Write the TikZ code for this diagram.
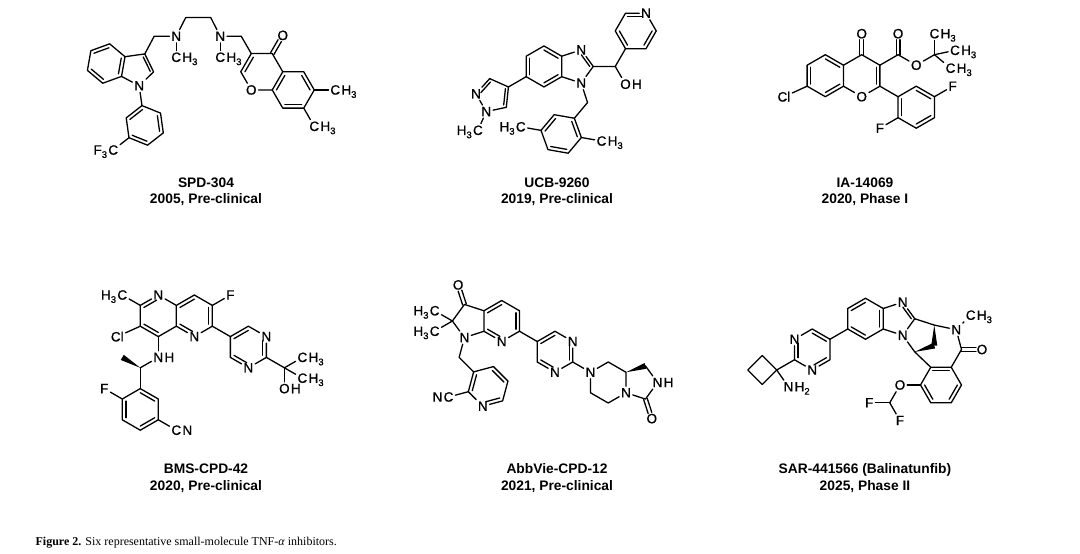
\documentclass[tikz,border=0pt]{standalone}
\usepackage{fontspec}
\setmainfont{Liberation Serif}
\newfontfamily\arialf{Liberation Sans}
\newfontfamily\arialfb[FakeBold=0.8]{Liberation Sans}
\usetikzlibrary{calc}
\newcommand\atomfont{\arialfb\fontsize{13.5}{15}\selectfont}
\newcommand\sub[1]{\raisebox{-3.2pt}{\fontsize{9.5}{10}\selectfont #1}}
\newcommand\din[4][]{\draw[#1] ($(#4)!0.8!(#2)$) -- ($(#4)!0.8!(#3)$);}
\newcommand\dbo[3][]{\draw[#1] ($(#2)!1.9pt!90:(#3)$) -- ($(#3)!1.9pt!-90:(#2)$); \draw[#1] ($(#2)!1.9pt!-90:(#3)$) -- ($(#3)!1.9pt!90:(#2)$);}
\newcommand\wdg[2]{\fill (#1) -- ($(#2)!3pt!90:(#1)$) -- ($(#2)!3pt!-90:(#1)$) -- cycle;}
\newcommand\suf[2]{\node[font=\atomfont,inner sep=0pt,anchor=base west] at ([xshift=-1.3pt]#1.base east) {#2};}
\newcommand\pre[2]{\node[font=\atomfont,inner sep=0pt,anchor=base east] at ([xshift=1.3pt]#1.base west) {#2};}
\tikzset{atm/.style={font=\atomfont,inner sep=1.3pt},
  ttl/.style={font=\arialf\bfseries\fontsize{13.8}{15}\selectfont,anchor=base,inner sep=0pt}}
\begin{document}
\begin{tikzpicture}[x=1pt,y=-1pt,line width=1.3pt,line cap=round,line join=round]
\fill[white] (0,0) rectangle (1080,554);
\useasboundingbox (0,0) rectangle (1080,554);
% ================= SPD-304 =================
\def\BL{20}
\coordinate (a3a) at (125,56.7);
\coordinate (a3) at ($(a3a)+(-8:\BL)$);
\coordinate (a2) at ($(a3)+(64:\BL)$);
\node[atm] (aN) at ($(a2)+(136:\BL)$) {N};
\coordinate (a7a) at ($(a3a)+(100:\BL)$);
\coordinate (a4) at ($(a3a)+(-140:\BL)$);
\coordinate (a5) at ($(a4)+(160:\BL)$);
\coordinate (a6) at ($(a5)+(100:\BL)$);
\coordinate (a7) at ($(a6)+(40:\BL)$);
\coordinate (abc) at ($(a3a)!0.5!(a6)$);
\coordinate (apc) at ($0.2*(a3a)+0.2*(a3)+0.2*(a2)+0.2*(aN)+0.2*(a7a)$);
\draw (a3a)--(a4)--(a5)--(a6)--(a7)--(a7a)--cycle;
\draw (a7a)--(aN)--(a2)--(a3)--(a3a);
\din{a4}{a5}{abc} \din{a6}{a7}{abc} \din{a7a}{a3a}{abc}
\din{a3}{a2}{apc}
\coordinate (b1) at ($(aN)+(82:\BL)$);
\coordinate (bc) at ($(b1)+(82:\BL)$);
\coordinate (b2) at ($(bc)+(202:\BL)$);
\coordinate (b3) at ($(bc)+(142:\BL)$);
\coordinate (b4) at ($(bc)+(82:\BL)$);
\coordinate (b5) at ($(bc)+(22:\BL)$);
\coordinate (b6) at ($(bc)+(-38:\BL)$);
\draw (aN)--(b1);
\draw (b1)--(b2)--(b3)--(b4)--(b5)--(b6)--cycle;
\din{b1}{b2}{bc} \din{b3}{b4}{bc} \din{b5}{b6}{bc}
\node[atm] (bC) at ($(b3)+(142:\BL)$) {C}; \pre{bC}{F\sub{3}}
\draw (b3)--(bC);
% chain
\coordinate (c1) at ($(a3)+(-62:\BL)$);
\node[atm] (cN1) at ($(c1)+(0:22)$) {N};
\node[atm] (cM1) at ($(cN1)+(90:21)$) {C}; \suf{cM1}{H\sub{3}}
\coordinate (c2) at ($(cN1)+(-63:21)$);
\coordinate (c3) at ($(c2)+(0:25)$);
\node[atm] (cN2) at ($(c3)+(63:21)$) {N};
\node[atm] (cM2) at ($(cN2)+(90:21)$) {C}; \suf{cM2}{H\sub{3}}
\coordinate (c4) at ($(cN2)+(0:21)$);
\draw (a3)--(c1)--(cN1)--(c2)--(c3)--(cN2)--(c4);
\draw (cN1)--(cM1); \draw (cN2)--(cM2);
% chromone
\def\BL{21}
\coordinate (d3) at ($(c4)+(60:20)$);
\coordinate (dpc) at ($(d3)+(60:\BL)$);
\coordinate (d4a) at ($(dpc)+(0:\BL)$);
\coordinate (d4) at ($(dpc)+(-60:\BL)$);
\coordinate (d2) at ($(dpc)+(180:\BL)$);
\node[atm] (dO) at ($(dpc)+(120:\BL)$) {O};
\coordinate (d8a) at ($(dpc)+(60:\BL)$);
\coordinate (dbc) at ($(dpc)+(30:{1.732*\BL})$);
\coordinate (d5) at ($(dbc)+(-60:\BL)$);
\coordinate (d6) at ($(dbc)+(0:\BL)$);
\coordinate (d7) at ($(dbc)+(60:\BL)$);
\coordinate (d8) at ($(dbc)+(120:\BL)$);
\draw (c4)--(d3);
\draw (d3)--(d4)--(d4a)--(d8a)--(dO)--(d2)--(d3);
\draw (d4a)--(d5)--(d6)--(d7)--(d8)--(d8a);
\din{d2}{d3}{dpc}
\din{d4a}{d8a}{dbc} \din{d5}{d6}{dbc} \din{d7}{d8}{dbc}
\node[atm] (dOk) at ($(d4)+(-60:\BL)$) {O};
\dbo[shorten >=6pt]{d4}{dOk}
\node[atm] (dM1) at ($(d6)+(0:\BL)$) {C}; \suf{dM1}{H\sub{3}}
\node[atm] (dM2) at ($(d7)+(60:\BL)$) {C}; \suf{dM2}{H\sub{3}}
\draw (d6)--(dM1); \draw (d7)--(dM2);
\node[ttl] at (206,187.5) {SPD-304};
\node[ttl] at (206,203.5) {2005, Pre-clinical};
% ================= UCB-9260 =================
\def\BL{20.5}
\coordinate (e7a) at (561.7,76.7);
\coordinate (e3a) at ($(e7a)+(-90:\BL)$);
\node[atm] (eN3) at ($(e3a)+(-18:\BL)$) {N};
\coordinate (e2) at ($(eN3)+(54:\BL)$);
\node[atm] (eN1) at ($(e2)+(126:\BL)$) {N};
\coordinate (eb) at ($($(e3a)!0.5!(e7a)$)+(180:{0.866*\BL})$);
\coordinate (e4) at ($(eb)+(-90:\BL)$);
\coordinate (e5) at ($(eb)+(-150:\BL)$);
\coordinate (e6) at ($(eb)+(150:\BL)$);
\coordinate (e7) at ($(eb)+(90:\BL)$);
\coordinate (ec) at ($($(e3a)!0.5!(e7a)$)+(0:{0.688*\BL})$);
\draw (e3a)--(e4)--(e5)--(e6)--(e7)--(e7a)--cycle;
\draw (e3a)--(eN3)--(e2)--(eN1)--(e7a);
\din{e3a}{e4}{eb} \din{e5}{e6}{eb} \din{e7}{e7a}{eb}
\din[shorten <=2pt]{eN3}{e2}{ec}
\coordinate (p4) at ($(e6)+(150:\BL)$);
\coordinate (pc) at ($(p4)+(150:{0.8507*\BL})$);
\coordinate (p5) at ($(pc)+(42:{0.8507*\BL})$);
\node[atm] (pN1) at ($(pc)+(114:{0.8507*\BL})$) {N};
\node[atm] (pN2) at ($(pc)+(186:{0.8507*\BL})$) {N};
\coordinate (p3) at ($(pc)+(258:{0.8507*\BL})$);
\draw (e6)--(p4);
\draw (p4)--(p5)--(pN1)--(pN2)--(p3)--(p4);
\din{p4}{p5}{pc} \din[shorten <=2pt]{pN2}{p3}{pc}
\node[atm] (pM) at ($(pN1)+(114:\BL)$) {C}; \pre{pM}{H\sub{3}}
\draw (pN1)--(pM);
\coordinate (eCH) at ($(e2)+(0:22)$);
\node[atm] (eO) at ($(eCH)+(60:\BL)$) {O}; \suf{eO}{H}
\coordinate (f4) at ($(eCH)+(-60:\BL)$);
\coordinate (fc) at ($(f4)+(-60:\BL)$);
\coordinate (f3) at ($(fc)+(180:\BL)$);
\coordinate (f2) at ($(fc)+(-120:\BL)$);
\node[atm] (fN) at ($(fc)+(-60:\BL)$) {N};
\coordinate (f6) at ($(fc)+(0:\BL)$);
\coordinate (f5) at ($(fc)+(60:\BL)$);
\draw (e2)--(eCH)--(eO); \draw (eCH)--(f4);
\draw (f4)--(f3)--(f2)--(fN)--(f6)--(f5)--(f4);
\din[shorten >=2pt]{f2}{fN}{fc} \din{f3}{f4}{fc} \din{f5}{f6}{fc}
\coordinate (g0) at ($(eN1)+(72:\BL)$);
\coordinate (g1) at ($(g0)+(130:\BL)$);
\coordinate (gc) at ($(g1)+(130:\BL)$);
\coordinate (g2) at ($(gc)+(10:\BL)$);
\coordinate (g3) at ($(gc)+(70:\BL)$);
\coordinate (g4) at ($(gc)+(130:\BL)$);
\coordinate (g5) at ($(gc)+(190:\BL)$);
\coordinate (g6) at ($(gc)+(250:\BL)$);
\draw (eN1)--(g0)--(g1);
\draw (g1)--(g2)--(g3)--(g4)--(g5)--(g6)--cycle;
\din{g1}{g2}{gc} \din{g3}{g4}{gc} \din{g5}{g6}{gc}
\node[atm] (gM1) at ($(g2)+(10:\BL)$) {C}; \suf{gM1}{H\sub{3}}
\node[atm] (gM2) at ($(g5)+(190:\BL)$) {C}; \pre{gM2}{H\sub{3}}
\draw (g2)--(gM1); \draw (g5)--(gM2);
\node[ttl] at (557,187.5) {UCB-9260};
\node[ttl] at (557,203.5) {2019, Pre-clinical};
% ================= IA-14069 =================
\def\BL{21}
\coordinate (hc) at (861.7,75.7);
\coordinate (h4) at ($(hc)+(-90:\BL)$);
\coordinate (h3) at ($(hc)+(-30:\BL)$);
\coordinate (h2) at ($(hc)+(30:\BL)$);
\node[atm] (hO) at ($(hc)+(90:\BL)$) {O};
\coordinate (h8a) at ($(hc)+(150:\BL)$);
\coordinate (h4a) at ($(hc)+(-150:\BL)$);
\coordinate (hb) at ($(hc)+(180:{1.732*\BL})$);
\coordinate (h5) at ($(hb)+(-90:\BL)$);
\coordinate (h6) at ($(hb)+(-150:\BL)$);
\coordinate (h7) at ($(hb)+(150:\BL)$);
\coordinate (h8) at ($(hb)+(90:\BL)$);
\draw (h4a)--(h4)--(h3)--(h2)--(hO)--(h8a)--(h4a);
\draw (h4a)--(h5)--(h6)--(h7)--(h8)--(h8a);
\din{h2}{h3}{hc}
\din{h4a}{h5}{hb} \din{h6}{h7}{hb} \din{h8}{h8a}{hb}
\node[atm] (hOk) at ($(h4)+(-90:\BL)$) {O};
\dbo[shorten >=6pt]{h4}{hOk}
\node[atm,xshift=-5pt] (hCl) at ($(h7)+(150:\BL)$) {Cl};
\draw (h7)--(hCl);
\coordinate (hE) at ($(h3)+(-30:\BL)$);
\node[atm] (hEO1) at ($(hE)+(-90:\BL)$) {O};
\node[atm] (hEO2) at ($(hE)+(30:\BL)$) {O};
\coordinate (hq) at ($(hEO2)+(-30:\BL)$);
\node[atm] (hM1) at ($(hq)+(-90:\BL)$) {C}; \suf{hM1}{H\sub{3}}
\node[atm] (hM2) at ($(hq)+(-12:\BL)$) {C}; \suf{hM2}{H\sub{3}}
\node[atm] (hM3) at ($(hq)+(40:\BL)$) {C}; \suf{hM3}{H\sub{3}}
\draw (h3)--(hE)--(hEO2)--(hq);
\dbo[shorten >=6pt]{hE}{hEO1}
\draw (hq)--(hM1); \draw (hq)--(hM2); \draw (hq)--(hM3);
\coordinate (i1) at ($(h2)+(30:\BL)$);
\coordinate (ic) at ($(i1)+(30:\BL)$);
\coordinate (i6) at ($(ic)+(-90:\BL)$);
\coordinate (i5) at ($(ic)+(-30:\BL)$);
\coordinate (i4) at ($(ic)+(30:\BL)$);
\coordinate (i3) at ($(ic)+(90:\BL)$);
\coordinate (i2) at ($(ic)+(150:\BL)$);
\draw (h2)--(i1);
\draw (i1)--(i6)--(i5)--(i4)--(i3)--(i2)--cycle;
\din{i1}{i2}{ic} \din{i3}{i4}{ic} \din{i5}{i6}{ic}
\node[atm] (iF1) at ($(i5)+(-30:\BL)$) {F};
\node[atm] (iF2) at ($(i2)+(150:\BL)$) {F};
\draw (i5)--(iF1); \draw (i2)--(iF2);
\node[ttl] at (865,187.5) {IA-14069};
\node[ttl] at (865,203.5) {2020, Phase I};
% ================= BMS-CPD-42 =================
\def\BL{20.8}
\coordinate (jc1) at (158.3,315.8);
\coordinate (jc2) at ($(jc1)+(0:{1.732*\BL})$);
\node[atm] (jN1) at ($(jc1)+(-90:\BL)$) {N};
\coordinate (j2) at ($(jc1)+(-150:\BL)$);
\coordinate (j3) at ($(jc1)+(150:\BL)$);
\coordinate (j4) at ($(jc1)+(90:\BL)$);
\coordinate (j4a) at ($(jc1)+(30:\BL)$);
\coordinate (j8a) at ($(jc1)+(-30:\BL)$);
\coordinate (j8) at ($(jc2)+(-90:\BL)$);
\coordinate (j7) at ($(jc2)+(-30:\BL)$);
\coordinate (j6) at ($(jc2)+(30:\BL)$);
\node[atm] (jN5) at ($(jc2)+(90:\BL)$) {N};
\draw (j8a)--(jN1)--(j2)--(j3)--(j4)--(j4a)--(j8a)--(j8)--(j7)--(j6)--(jN5)--(j4a);
\din[shorten >=2pt]{j2}{jN1}{jc1} \din{j3}{j4}{jc1}
\din[shorten >=2pt]{j4a}{jN5}{jc2} \din{j6}{j7}{jc2} \din{j8}{j8a}{jc2}
\node[atm] (jM) at ($(j2)+(-150:\BL)$) {C}; \pre{jM}{H\sub{3}}
\draw (j2)--(jM);
\node[atm,xshift=-5pt] (jCl) at ($(j3)+(150:\BL)$) {Cl};
\draw (j3)--(jCl);
\node[atm] (jF) at ($(j7)+(-30:\BL)$) {F};
\draw (j7)--(jF);
\node[atm] (jNH) at ($(j4)+(90:\BL)$) {N}; \suf{jNH}{H}
\draw (j4)--(jNH);
\coordinate (k0) at ($(jNH)+(150:\BL)$);
\draw (jNH)--(k0);
\coordinate (km) at ($(k0)+(-150:\BL)$);
\wdg{k0}{km}
\coordinate (k1) at ($(k0)+(90:\BL)$);
\coordinate (kc) at ($(k1)+(90:\BL)$);
\coordinate (k2) at ($(kc)+(-150:\BL)$);
\coordinate (k3) at ($(kc)+(150:\BL)$);
\coordinate (k4) at ($(kc)+(90:\BL)$);
\coordinate (k5) at ($(kc)+(30:\BL)$);
\coordinate (k6) at ($(kc)+(-30:\BL)$);
\draw (k0)--(k1);
\draw (k1)--(k2)--(k3)--(k4)--(k5)--(k6)--cycle;
\din{k2}{k3}{kc} \din{k4}{k5}{kc} \din{k6}{k1}{kc}
\node[atm] (kF) at ($(k2)+(-150:\BL)$) {F};
\draw (k2)--(kF);
\node[atm] (kC) at ($(k5)+(30:\BL)$) {C}; \suf{kC}{N}
\draw (k5)--(kC);
\coordinate (l5) at ($(j6)+(30:\BL)$);
\coordinate (lc) at ($(l5)+(30:\BL)$);
\coordinate (l4) at ($(lc)+(-90:\BL)$);
\node[atm] (lN3) at ($(lc)+(-30:\BL)$) {N};
\coordinate (l2) at ($(lc)+(30:\BL)$);
\node[atm] (lN1) at ($(lc)+(90:\BL)$) {N};
\coordinate (l6) at ($(lc)+(150:\BL)$);
\draw (j6)--(l5);
\draw (l5)--(l4)--(lN3)--(l2)--(lN1)--(l6)--(l5);
\din{l5}{l4}{lc} \din[shorten <=2pt]{lN3}{l2}{lc} \din[shorten <=2pt]{lN1}{l6}{lc}
\coordinate (lq) at ($(l2)+(30:\BL)$);
\draw (l2)--(lq);
\node[atm] (lM1) at ($(lq)+(-30:\BL)$) {C}; \suf{lM1}{H\sub{3}}
\node[atm] (lM2) at ($(lq)+(30:\BL)$) {C}; \suf{lM2}{H\sub{3}}
\node[atm] (lO) at ($(lq)+(90:\BL)$) {O}; \suf{lO}{H}
\draw (lq)--(lM1); \draw (lq)--(lM2); \draw (lq)--(lO);
\node[ttl] at (206,473.5) {BMS-CPD-42};
\node[ttl] at (206,490) {2020, Pre-clinical};
% ================= AbbVie-CPD-12 =================
\def\BL{20.5}
\coordinate (mc) at (501.7,321);
\coordinate (m4) at ($(mc)+(-90:\BL)$);
\coordinate (m5) at ($(mc)+(-30:\BL)$);
\coordinate (m6) at ($(mc)+(30:\BL)$);
\node[atm] (mN7) at ($(mc)+(90:\BL)$) {N};
\coordinate (m7a) at ($(mc)+(150:\BL)$);
\coordinate (m3a) at ($(mc)+(-150:\BL)$);
\coordinate (mp) at ($($(m3a)!0.5!(m7a)$)+(180:{0.688*\BL})$);
\node[atm] (mN1) at ($(mp)+(108:{0.8507*\BL})$) {N};
\coordinate (m2) at ($(mp)+(180:{0.8507*\BL})$);
\coordinate (m3) at ($(mp)+(-108:{0.8507*\BL})$);
\draw (m7a)--(m3a)--(m4)--(m5)--(m6)--(mN7)--(m7a);
\draw (m7a)--(mN1)--(m2)--(m3)--(m3a);
\din{m3a}{m4}{mc} \din{m5}{m6}{mc} \din[shorten <=2pt]{mN7}{m7a}{mc}
\node[atm] (mO) at ($(m3)+(-108:\BL)$) {O};
\dbo[shorten >=6pt]{m3}{mO}
\node[atm] (mMa) at ($(m2)+(-150:\BL)$) {C}; \pre{mMa}{H\sub{3}}
\node[atm] (mMb) at ($(m2)+(150:\BL)$) {C}; \pre{mMb}{H\sub{3}}
\draw (m2)--(mMa); \draw (m2)--(mMb);
\coordinate (n0) at ($(mN1)+(105:\BL)$);
\coordinate (n3) at ($(n0)+(45:\BL)$);
\coordinate (nc) at ($(n3)+(45:\BL)$);
\coordinate (n4) at ($(nc)+(-75:\BL)$);
\coordinate (n5) at ($(nc)+(-15:\BL)$);
\coordinate (n6) at ($(nc)+(45:\BL)$);
\node[atm] (nN) at ($(nc)+(105:\BL)$) {N};
\coordinate (n2) at ($(nc)+(165:\BL)$);
\draw (mN1)--(n0)--(n3);
\draw (n3)--(n4)--(n5)--(n6)--(nN)--(n2)--(n3);
\din{n2}{n3}{nc} \din{n4}{n5}{nc} \din[shorten >=2pt]{n6}{nN}{nc}
\node[atm] (nC) at ($(n2)+(165:\BL)$) {C}; \pre{nC}{N}
\draw (n2)--(nC);
\coordinate (o5) at ($(m6)+(30:\BL)$);
\coordinate (oc) at ($(o5)+(30:\BL)$);
\coordinate (o4) at ($(oc)+(-90:\BL)$);
\node[atm] (oN3) at ($(oc)+(-30:\BL)$) {N};
\coordinate (o2) at ($(oc)+(30:\BL)$);
\node[atm] (oN1) at ($(oc)+(90:\BL)$) {N};
\coordinate (o6) at ($(oc)+(150:\BL)$);
\draw (m6)--(o5);
\draw (o5)--(o4)--(oN3)--(o2)--(oN1)--(o6)--(o5);
\din{o5}{o4}{oc} \din[shorten <=2pt]{oN3}{o2}{oc} \din[shorten <=2pt]{oN1}{o6}{oc}
\node[atm] (qN4) at ($(o2)+(30:\BL)$) {N};
\draw (o2)--(qN4);
\coordinate (qc) at ($(qN4)+(30:\BL)$);
\coordinate (qt) at ($(qc)+(-90:\BL)$);
\coordinate (q8a) at ($(qc)+(-30:\BL)$);
\node[atm] (qN) at ($(qc)+(30:\BL)$) {N};
\coordinate (qb) at ($(qc)+(90:\BL)$);
\coordinate (ql) at ($(qc)+(150:\BL)$);
\draw (qN4)--(qt)--(q8a)--(qN)--(qb)--(ql)--(qN4);
\coordinate (rc) at ($($(q8a)!0.5!(qN)$)+(0:{0.688*\BL})$);
\coordinate (r1) at ($(rc)+(-72:{0.8507*\BL})$);
\node[atm] (rN) at ($(rc)+(0:{0.8507*\BL})$) {N}; \suf{rN}{H}
\coordinate (rC) at ($(rc)+(72:{0.8507*\BL})$);
\wdg{q8a}{r1}
\draw (r1)--(rN)--(rC)--(qN);
\node[atm] (rO) at ($(rC)+(72:\BL)$) {O};
\dbo[shorten >=6pt]{rC}{rO}
\node[ttl] at (557,473.5) {AbbVie-CPD-12};
\node[ttl] at (557,490) {2021, Pre-clinical};
% ================= SAR-441566 =================
\def\BL{20.5}
\coordinate (s0) at (776.7,370);
\coordinate (s2) at ($(s0)+(-30:\BL)$);
\coordinate (sc) at ($(s2)+(-30:\BL)$);
\node[atm] (sN3) at ($(sc)+(-150:\BL)$) {N};
\coordinate (s4) at ($(sc)+(-90:\BL)$);
\coordinate (s5) at ($(sc)+(-30:\BL)$);
\coordinate (s6) at ($(sc)+(30:\BL)$);
\node[atm] (sN1) at ($(sc)+(90:\BL)$) {N};
\draw (s2)--(sN3)--(s4)--(s5)--(s6)--(sN1)--(s2);
\din[shorten <=2pt]{sN3}{s2}{sc} \din{s4}{s5}{sc} \din[shorten >=2pt]{s6}{sN1}{sc}
\draw (s0)--(s2);
\coordinate (t1) at ($(s0)+(-135:\BL)$);
\coordinate (t2) at ($(t1)+(135:\BL)$);
\coordinate (t3) at ($(s0)+(135:\BL)$);
\draw (s0)--(t1)--(t2)--(t3)--cycle;
\node[atm] (sNH) at ($(s0)+(55:\BL)$) {N}; \suf{sNH}{H\sub{2}}
\draw (s0)--(sNH);
\coordinate (u6) at ($(s5)+(-30:\BL)$);
\coordinate (uc) at ($(u6)+(-30:\BL)$);
\coordinate (u5) at ($(uc)+(-150:\BL)$);
\coordinate (u4) at ($(uc)+(-90:\BL)$);
\coordinate (u3a) at ($(uc)+(-30:\BL)$);
\coordinate (u7a) at ($(uc)+(30:\BL)$);
\coordinate (u7) at ($(uc)+(90:\BL)$);
\draw (s5)--(u6);
\draw (u6)--(u5)--(u4)--(u3a)--(u7a)--(u7)--cycle;
\din{u5}{u4}{uc} \din{u3a}{u7a}{uc} \din{u7}{u6}{uc}
\node[atm] (vN3) at ($(u3a)+(-18:\BL)$) {N};
\coordinate (v2) at ($(vN3)+(54:\BL)$);
\node[atm] (vN1) at ($(v2)+(126:\BL)$) {N};
\coordinate (vc) at ($($(u3a)!0.5!(u7a)$)+(0:{0.688*\BL})$);
\draw (u3a)--(vN3)--(v2)--(vN1)--(u7a);
\din[shorten <=2pt]{vN3}{v2}{vc}
\coordinate (wc) at ($(vN1)+(v2)-(vc)$);
\coordinate (wa) at ($(wc)+(-36:{0.8507*\BL})$);
\coordinate (wm) at ($(wc)+(36:{0.8507*\BL})$);
\coordinate (wb) at ($(wc)+(108:{0.8507*\BL})$);
\draw (v2)--(wa); \draw (vN1)--(wb);
\wdg{wa}{wm} \wdg{wb}{wm}
\coordinate (xc) at (941,385);
\coordinate (x1) at ($(xc)+(-120:\BL)$);
\coordinate (x2) at ($(xc)+(-60:\BL)$);
\coordinate (x3) at ($(xc)+(0:\BL)$);
\coordinate (x4) at ($(xc)+(60:\BL)$);
\coordinate (x5) at ($(xc)+(120:\BL)$);
\coordinate (x6) at ($(xc)+(180:\BL)$);
\draw (x1)--(x2)--(x3)--(x4)--(x5)--(x6)--cycle;
\din{x1}{x2}{xc} \din{x3}{x4}{xc} \din{x5}{x6}{xc}
\draw (wb)--(x1);
\coordinate (z0) at ($(x2)+(-60:\BL)$);
\draw (x2)--(z0);
\node[atm] (zO) at ($(z0)+(0:\BL)$) {O};
\dbo[shorten >=6pt]{z0}{zO}
\node[atm] (zN) at ($(z0)+(-105:\BL)$) {N};
\draw (z0)--(zN)--(wa);
\node[atm] (zM) at ($(zN)+(-45:\BL)$) {C}; \suf{zM}{H\sub{3}}
\draw (zN)--(zM);
\node[atm] (yO) at ($(x6)+(180:\BL)$) {O};
\draw (x6)--(yO);
\coordinate (y0) at ($(yO)+(120:\BL)$);
\draw (yO)--(y0);
\node[atm] (yF1) at ($(y0)+(180:\BL)$) {F};
\node[atm] (yF2) at ($(y0)+(60:\BL)$) {F};
\draw (y0)--(yF1); \draw (y0)--(yF2);
\node[ttl] at (865,473.5) {SAR-441566 (Balinatunfib)};
\node[ttl] at (865,490) {2025, Phase II};
% caption
\node[anchor=base west,inner sep=0pt,font=\fontsize{12}{14}\selectfont] (cap) at (35,545) {\textbf{Figure 2.} Six representative small-molecule TNF-\textit{α} inhibitors.};
\end{tikzpicture}
\end{document}
